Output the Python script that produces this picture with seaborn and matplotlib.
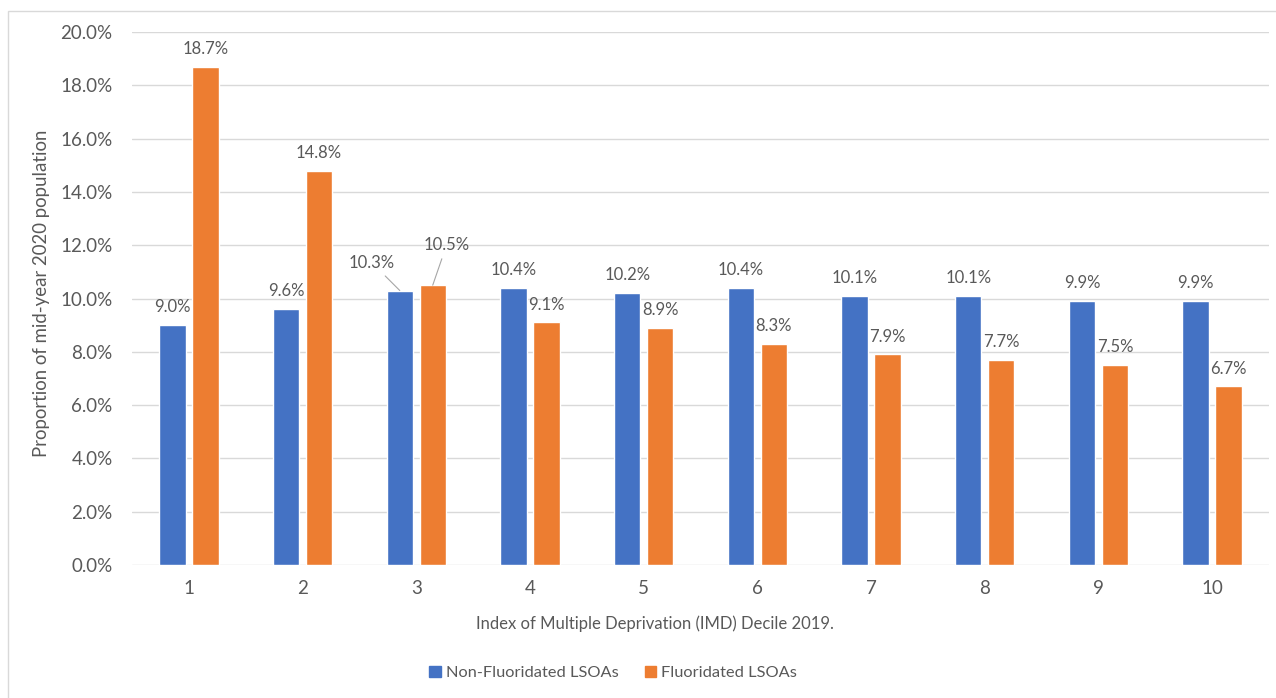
import matplotlib
matplotlib.use("Agg")
import matplotlib.pyplot as plt
import matplotlib.patches as mpatches
import matplotlib.ticker as mticker
import pandas as pd
import seaborn as sns

# Share of mid-year 2020 population by IMD decile
deciles = ["1", "2", "3", "4", "5", "6", "7", "8", "9", "10"]
non_fluoridated = [9.0, 9.6, 10.3, 10.4, 10.2, 10.4, 10.1, 10.1, 9.9, 9.9]
fluoridated = [18.7, 14.8, 10.5, 9.1, 8.9, 8.3, 7.9, 7.7, 7.5, 6.7]
series_names = ["Non-Fluoridated LSOAs", "Fluoridated LSOAs"]
y_ticks = [0, 2, 4, 6, 8, 10, 12, 14, 16, 18, 20]

BLUE = "#4472C4"
ORANGE = "#ED7D31"
TEXT = "#595959"
GRID = "#D9D9D9"

df = pd.DataFrame({
    "decile": deciles * 2,
    "series": [series_names[0]] * len(deciles) + [series_names[1]] * len(deciles),
    "value": [v / 100 for v in non_fluoridated] + [v / 100 for v in fluoridated],
})

sns.set_theme(style="white")
plt.rcParams["font.family"] = ["Lato", "DejaVu Sans"]

fig = plt.figure(figsize=(12.76, 6.98), dpi=100)
W, H = 1276, 698
ax = fig.add_axes([132 / W, 1 - 565 / H, (1269 - 132) / W, (565 - 32) / H])

sns.barplot(
    data=df, x="decile", y="value", hue="series", order=deciles,
    hue_order=series_names, palette=[BLUE, ORANGE],
    width=0.58, gap=0.2, errorbar=None, ax=ax, legend=False,
    saturation=1,
)

ax.set_ylim(0, 0.20)
ax.set_yticks([t / 100 for t in y_ticks])
ax.yaxis.set_major_formatter(mticker.FuncFormatter(lambda v, _: f"{v * 100:.1f}%"))
ax.grid(axis="y", color=GRID, linewidth=1)
ax.set_axisbelow(True)
for s in ax.spines.values():
    s.set_visible(False)
ax.tick_params(axis="both", length=0, colors=TEXT, labelsize=13.5)
ax.tick_params(axis="y", pad=14)
ax.tick_params(axis="x", pad=11)

ax.set_ylabel("Proportion of mid-year 2020 population", color=TEXT, fontsize=13.4)
ax.yaxis.set_label_coords(-0.072, 0.51)
ax.set_xlabel("Index of Multiple Deprivation (IMD) Decile 2019.", color=TEXT, fontsize=12)
ax.xaxis.set_label_coords(0.46, -0.094)

# Data labels; decile 3 labels are pulled aside with leader lines
special = {
    (0, 2): (-20, 20),
    (1, 2): (10, 29),
}
for si, cont in enumerate(ax.containers):
    for ci, bar in enumerate(cont.patches):
        val = bar.get_height()
        xc = bar.get_x() + bar.get_width() / 2
        label = f"{val * 100:.1f}%"
        if (si, ci) in special:
            dx, dy = special[(si, ci)]
            ax.annotate(
                label, xy=(xc, val), xytext=(dx, dy), textcoords="offset points",
                ha="center", va="center", fontsize=12, color=TEXT,
                arrowprops=dict(arrowstyle="-", color="#A6A6A6", lw=0.8,
                                shrinkA=2, shrinkB=0),
            )
        else:
            ax.annotate(
                label, xy=(xc, val), xytext=(0, 7), textcoords="offset points",
                ha="center", va="bottom", fontsize=12, color=TEXT,
            )

handles = [mpatches.Patch(color=BLUE, label=series_names[0]),
           mpatches.Patch(color=ORANGE, label=series_names[1])]
fig.legend(handles=handles, loc="center", bbox_to_anchor=(613 / W, 1 - 673 / H),
           ncol=2, frameon=False, fontsize=11.8, labelcolor=TEXT,
           handlelength=0.7, handleheight=0.7, handletextpad=0.3,
           columnspacing=1.6)

# Outer chart frame
frame = mpatches.Rectangle((8 / W, -0.1), 1.2, 1 - 11 / H + 0.1,
                           transform=fig.transFigure, fill=False,
                           edgecolor=GRID, linewidth=1, clip_on=False)
fig.patches.append(frame)

fig.savefig("out.png", dpi=100, facecolor="white")
